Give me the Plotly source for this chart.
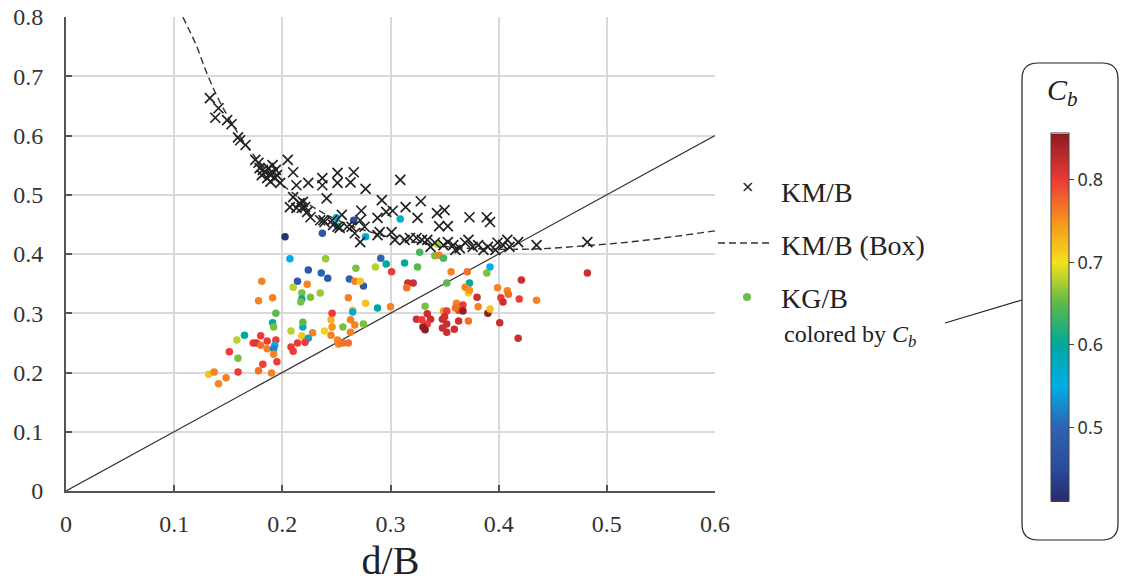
import plotly.graph_objects as go

# ---------------- data ----------------
km_x = [0.133,0.141,0.138,0.149,0.153,0.159,0.161,0.166,0.175,0.178,0.179,0.184,0.189,0.191,0.193,0.189,0.186,0.195,0.182,0.198,
        0.205,0.210,0.213,0.224,0.237,0.237,0.251,0.251,0.263,0.266,0.277,0.309,0.292,0.273,0.288,0.296,0.302,0.314,0.328,0.325,
        0.343,0.350,0.345,0.353,0.373,0.389,0.392,0.210,0.216,0.221,0.226,0.207,0.241,0.238,0.246,0.251,0.260,0.264,0.267,0.272,
        0.276,0.288,0.301,0.313,0.318,0.324,0.329,0.334,0.337,0.349,0.353,0.358,0.364,0.369,0.372,0.376,0.381,0.390,0.399,0.408,
        0.410,0.418,0.435,0.482,0.219,0.218,0.223,0.213,0.235,0.239,0.247,0.253,0.190,0.187,0.181,0.194,0.341,0.360,0.386,0.397,
        0.404,0.290,0.304,0.255,0.272]
km_y = [0.663,0.646,0.630,0.626,0.619,0.597,0.592,0.584,0.559,0.554,0.545,0.538,0.533,0.550,0.528,0.522,0.528,0.533,0.542,0.520,
        0.559,0.538,0.516,0.520,0.528,0.516,0.537,0.520,0.521,0.538,0.510,0.525,0.491,0.473,0.461,0.471,0.473,0.479,0.489,0.461,
        0.469,0.474,0.447,0.447,0.462,0.462,0.454,0.496,0.486,0.479,0.462,0.479,0.494,0.457,0.457,0.446,0.446,0.446,0.435,0.420,
        0.446,0.432,0.437,0.424,0.427,0.427,0.424,0.424,0.412,0.415,0.420,0.415,0.410,0.419,0.424,0.412,0.415,0.412,0.419,0.424,
        0.412,0.420,0.415,0.420,0.488,0.478,0.471,0.478,0.457,0.454,0.449,0.444,0.538,0.545,0.533,0.542,0.419,0.407,0.407,0.407,
        0.415,0.437,0.424,0.466,0.457]

kg_x = [0.2025,0.237,0.250,0.251,0.266,0.309,0.277,0.343,0.327,0.341,0.345,0.349,0.207,0.240,0.291,0.296,0.313,0.325,0.286,0.268,
        0.301,0.356,0.371,0.392,0.389,0.421,0.482,0.224,0.236,0.242,0.214,0.262,0.275,0.267,0.272,0.210,0.223,0.218,0.226,0.235,
        0.218,0.217,0.316,0.321,0.315,0.261,0.181,0.178,0.191,0.194,0.191,0.192,0.208,0.219,0.219,0.228,0.218,0.224,0.221,0.214,
        0.208,0.210,0.239,0.246,0.245,0.246,0.256,0.263,0.263,0.265,0.245,0.251,0.252,0.256,0.261,0.165,0.158,0.173,0.176,0.180,
        0.186,0.180,0.194,0.186,0.193,0.192,0.192,0.195,0.182,0.159,0.151,0.159,0.178,0.190,0.132,0.137,0.148,0.141,0.352,0.373,
        0.369,0.372,0.373,0.380,0.399,0.408,0.409,0.402,0.404,0.419,0.435,0.277,0.288,0.300,0.332,0.361,0.367,0.363,0.367,0.360,
        0.381,0.349,0.352,0.390,0.392,0.401,0.418,0.324,0.329,0.334,0.337,0.334,0.330,0.332,0.348,0.350,0.352,0.352,0.348,0.359,
        0.363,0.372,0.275,0.267,0.265]
kg_y = [0.429,0.435,0.461,0.447,0.457,0.459,0.429,0.417,0.403,0.397,0.398,0.393,0.392,0.392,0.393,0.383,0.385,0.378,0.378,0.376,
        0.370,0.370,0.370,0.378,0.368,0.356,0.368,0.373,0.368,0.359,0.354,0.358,0.346,0.354,0.354,0.344,0.349,0.334,0.327,0.334,
        0.324,0.319,0.351,0.351,0.343,0.326,0.354,0.321,0.326,0.300,0.284,0.277,0.270,0.277,0.285,0.267,0.262,0.258,0.251,0.250,
        0.243,0.236,0.270,0.277,0.289,0.300,0.277,0.289,0.268,0.305,0.263,0.255,0.248,0.250,0.250,0.263,0.255,0.250,0.250,0.262,
        0.253,0.246,0.255,0.240,0.246,0.240,0.231,0.218,0.214,0.224,0.235,0.201,0.203,0.199,0.197,0.201,0.191,0.181,0.351,0.351,
        0.344,0.334,0.339,0.327,0.343,0.338,0.332,0.326,0.319,0.324,0.322,0.317,0.309,0.311,0.312,0.317,0.314,0.305,0.304,0.309,
        0.311,0.304,0.304,0.300,0.307,0.284,0.258,0.290,0.289,0.299,0.290,0.282,0.277,0.272,0.290,0.294,0.282,0.268,0.275,0.273,
        0.287,0.287,0.282,0.280,0.302]
kg_cb = [0.42,0.47,0.56,0.56,0.45,0.56,0.56,0.68,0.64,0.66,0.76,0.64,0.55,0.67,0.50,0.60,0.60,0.65,0.68,0.66,
         0.80,0.76,0.77,0.55,0.66,0.82,0.82,0.48,0.50,0.48,0.48,0.50,0.48,0.76,0.72,0.68,0.76,0.66,0.66,0.67,
         0.60,0.66,0.82,0.82,0.77,0.76,0.76,0.76,0.76,0.65,0.60,0.66,0.68,0.57,0.65,0.76,0.72,0.57,0.80,0.80,
         0.80,0.80,0.71,0.75,0.73,0.80,0.66,0.76,0.76,0.72,0.76,0.76,0.76,0.77,0.77,0.60,0.68,0.80,0.81,0.80,
         0.80,0.77,0.80,0.76,0.55,0.52,0.76,0.80,0.80,0.66,0.80,0.80,0.77,0.76,0.72,0.76,0.76,0.76,0.65,0.60,
         0.76,0.71,0.75,0.82,0.76,0.76,0.77,0.80,0.82,0.80,0.76,0.72,0.60,0.76,0.66,0.76,0.80,0.80,0.85,0.77,
         0.76,0.75,0.80,0.85,0.72,0.82,0.82,0.82,0.80,0.82,0.82,0.80,0.85,0.86,0.82,0.82,0.82,0.82,0.82,0.82,
         0.82,0.77,0.66,0.76,0.56]

box_x = [0.108,0.12,0.13,0.14,0.15,0.16,0.17,0.18,0.19,0.20,0.22,0.24,0.26,0.28,0.30,0.33,0.36,0.40,0.44,0.48,0.52,0.56,0.60]
box_y = [0.800,0.754,0.706,0.665,0.631,0.601,0.575,0.553,0.534,0.517,0.489,0.467,0.450,0.438,0.428,0.418,0.411,0.408,0.409,0.414,0.420,0.429,0.439]

diag_x = [0.0, 0.6]
diag_y = [0.0, 0.6]

x_ticks = [0, 0.1, 0.2, 0.3, 0.4, 0.5, 0.6]
y_ticks = [0, 0.1, 0.2, 0.3, 0.4, 0.5, 0.6, 0.7, 0.8]
cb_ticks = [0.5, 0.6, 0.7, 0.8]
cb_min, cb_max = 0.41, 0.856

# ---------------- figure ----------------
W, H = 1121, 588
ML, MR, MT, MB = 66, 406, 17, 97
PW, PH = W - ML - MR, H - MT - MB

def px(x):  # pixel -> paper x
    return (x - ML) / PW

def py(y):  # pixel -> paper y
    return (H - MB - y) / PH

cscale = [
    [0.000, "#262a6e"], [0.090, "#2b4b9b"], [0.202, "#2e63b0"], [0.314, "#00aee8"],
    [0.426, "#00a99d"], [0.538, "#5bb849"], [0.650, "#f4e11e"], [0.762, "#f7941d"],
    [0.874, "#ee3a39"], [1.000, "#8e1b1f"],
]

fig = go.Figure()

fig.add_trace(go.Scatter(x=diag_x, y=diag_y, mode="lines",
                         line=dict(color="#333333", width=1.2), showlegend=False, hoverinfo="skip"))
fig.add_trace(go.Scatter(x=box_x, y=box_y, mode="lines", line_shape="spline",
                         line=dict(color="#333333", width=1.4, dash="7px,4px"),
                         name="KM/B (Box)", showlegend=False))
fig.add_trace(go.Scatter(x=kg_x, y=kg_y, mode="markers", name="KG/B", showlegend=False,
                         marker=dict(size=7.5, color=kg_cb, colorscale=cscale, cmin=cb_min, cmax=cb_max,
                                     line=dict(width=0),
                                     colorbar=dict(x=px(1051), xanchor="left", xpad=0, ypad=0,
                                                   y=py(317.5), yanchor="middle",
                                                   len=368, lenmode="pixels",
                                                   thickness=18, thicknessmode="pixels",
                                                   outlinewidth=1, outlinecolor="#444444",
                                                   tickvals=cb_ticks, ticktext=[str(v) for v in cb_ticks],
                                                   ticks="outside", ticklen=5, tickcolor="#444444",
                                                   tickfont=dict(family="Noto Sans", size=18, color="#333333")))))
fig.add_trace(go.Scatter(x=km_x, y=km_y, mode="markers", name="KM/B", showlegend=False,
                         marker=dict(symbol="x-thin", size=10, color="#222222",
                                     line=dict(width=1.7, color="#222222"))))

axis_common = dict(showgrid=True, gridcolor="#d9d9d9", gridwidth=2, zeroline=False,
                   showline=True, linecolor="#555555", linewidth=2,
                   ticks="inside", ticklen=6, tickwidth=2, tickcolor="#555555",
                   tickfont=dict(family="Liberation Serif", size=24, color="#333333"))

fig.update_xaxes(range=[0, 0.6], tickvals=x_ticks, ticktext=[("%g" % v) for v in x_ticks],
                 ticklabelstandoff=10,
                 title=dict(text="d/B", font=dict(family="Liberation Serif", size=40, color="#222222"), standoff=10),
                 **axis_common)
fig.update_yaxes(range=[0, 0.8], tickvals=y_ticks, ticktext=[("%g" % v) for v in y_ticks],
                 ticklabelstandoff=16, **axis_common)

serif = "Liberation Serif"
ann = [
    dict(x=px(747), y=py(186), text="×", font=dict(family="DejaVu Sans", size=16, color="#222222"),
         xanchor="center", yanchor="middle"),
    dict(x=px(779), y=py(192), text="KM/B", font=dict(family=serif, size=28, color="#222222"),
         xanchor="left", yanchor="middle"),
    dict(x=px(779), y=py(245), text="KM/B (Box)", font=dict(family=serif, size=28, color="#222222"),
         xanchor="left", yanchor="middle"),
    dict(x=px(779), y=py(298), text="KG/B", font=dict(family=serif, size=28, color="#222222"),
         xanchor="left", yanchor="middle"),
    dict(x=px(782), y=py(336), text="colored by <i>C</i><sub><i>b</i></sub>",
         font=dict(family=serif, size=24, color="#222222"), xanchor="left", yanchor="middle"),
    dict(x=px(1062), y=py(92), text="<i>C</i><sub><i>b</i></sub>",
         font=dict(family=serif, size=30, color="#222222"), xanchor="center", yanchor="middle"),
]
for a in ann:
    a.update(xref="paper", yref="paper", showarrow=False)

xL, xR, yT, yB = px(1022), px(1118), py(63), py(540)
rx, ry = 16 / PW, 16 / PH
box_path = (f"M {xL+rx},{yT} L {xR-rx},{yT} Q {xR},{yT} {xR},{yT-ry} L {xR},{yB+ry} "
            f"Q {xR},{yB} {xR-rx},{yB} L {xL+rx},{yB} Q {xL},{yB} {xL},{yB+ry} "
            f"L {xL},{yT-ry} Q {xL},{yT} {xL+rx},{yT} Z")

shapes = [
    dict(type="path", path=box_path, xref="paper", yref="paper", line=dict(color="#222222", width=1.2)),
    dict(type="line", x0=px(718), x1=px(773), y0=py(243), y1=py(243), xref="paper", yref="paper",
         line=dict(color="#333333", width=1.4, dash="7px,4px")),
    dict(type="circle", x0=px(743), x1=px(751), y0=py(301), y1=py(293), xref="paper", yref="paper",
         fillcolor="#6abd45", line=dict(width=0)),
    dict(type="line", x0=px(945), y0=py(323), x1=px(1022), y1=py(300), xref="paper", yref="paper",
         line=dict(color="#222222", width=1.2)),
]

fig.update_layout(width=W, height=H, margin=dict(l=ML, r=MR, t=MT, b=MB, autoexpand=False),
                  paper_bgcolor="white", plot_bgcolor="white",
                  annotations=ann, shapes=shapes, showlegend=False)

fig.write_html("out.html")
